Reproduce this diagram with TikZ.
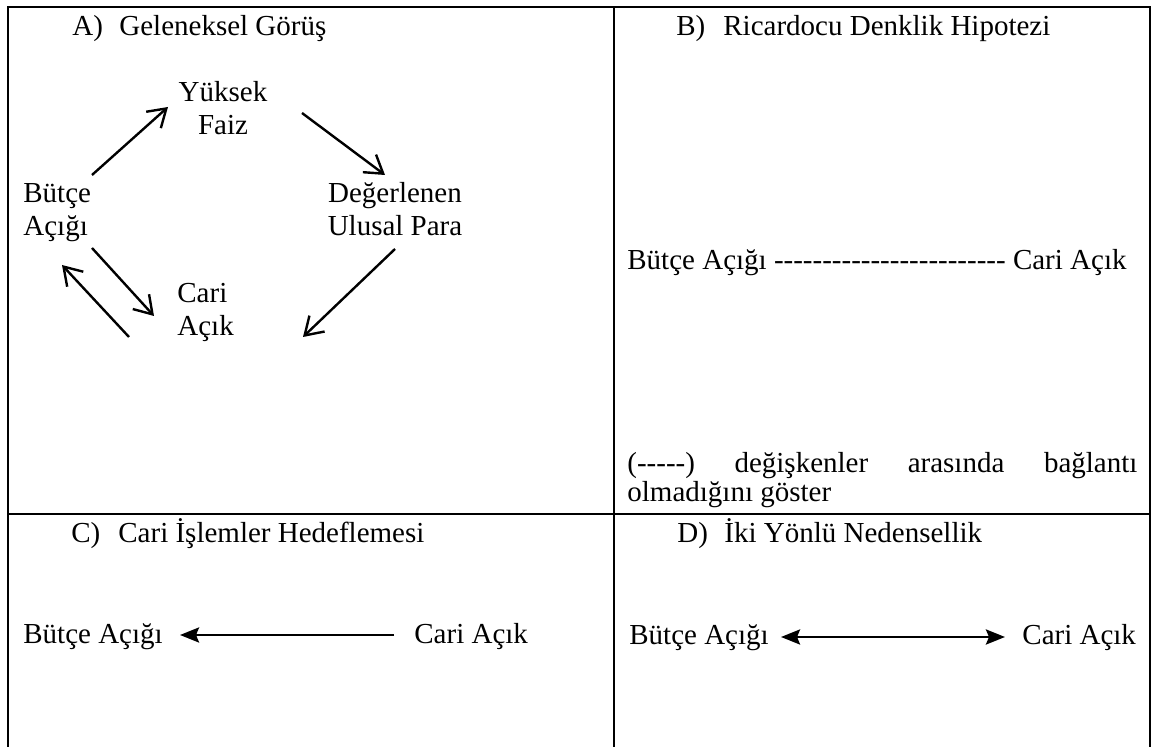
\documentclass[tikz,border=0pt]{standalone}
\usepackage{fontspec}
\setmainfont{Liberation Serif}
\usetikzlibrary{arrows.meta}
\newcommand\hy{-\kern0pt}
\begin{document}
\begin{tikzpicture}[x=0.5pt,y=-0.5pt,
  lbl/.style={inner sep=0pt, font=\fontsize{14.5}{16.2}\selectfont},
  rule/.style={line width=1.15pt},
  openarrow/.style={line width=1.2pt, -{Straight Barb[length=8.6pt,width=11pt]}},
  fillarrow/.style={line width=1.4pt},
  tip/.tip={Stealth[length=9.5pt,width=7.5pt,inset=1.5pt]}]
\useasboundingbox (0,0) rectangle (1152,747);
% table rules
\draw[rule] (8,747) -- (8,7) -- (1150,7) -- (1150,747);
\draw[rule] (614,7) -- (614,747);
\draw[rule] (8,514) -- (1150,514);
% titles
\node[lbl, anchor=base west] (tA) at (72,36) {\makebox[23.5pt][l]{A)}Geleneksel Görüş};
\node[lbl, anchor=base west] (tB) at (676,36) {\makebox[23.5pt][l]{B)}Ricardocu Denklik Hipotezi};
\node[lbl, anchor=base west] (tC) at (71,543) {\makebox[23.5pt][l]{C)}Cari İşlemler Hedeflemesi};
\node[lbl, anchor=base west] (tD) at (677,543) {\makebox[23.5pt][l]{D)}İki Yönlü Nedensellik};
% panel A
\node[lbl, anchor=base] (yf) at (223,102) {\begin{tabular}[t]{@{}c@{}}Yüksek\\Faiz\end{tabular}};
\node[lbl, anchor=base west] (bA) at (23,203) {\begin{tabular}[t]{@{}l@{}}Bütçe\\Açığı\end{tabular}};
\node[lbl, anchor=base] (dp) at (395,203) {\begin{tabular}[t]{@{}c@{}}Değerlenen\\Ulusal Para\end{tabular}};
\node[lbl, anchor=base west] (cA) at (177,303) {\begin{tabular}[t]{@{}l@{}}Cari\\Açık\end{tabular}};
\draw[openarrow] ([shift={(69,-28)}]bA.base west) -- ([shift={(-55,5)}]yf.base);
\draw[openarrow] ([shift={(79,11)}]yf.base) -- ([shift={(-10,-28)}]dp.base);
\draw[openarrow] ([shift={(0,46)}]dp.base) -- ([shift={(126,34)}]cA.base west);
\draw[openarrow] ([shift={(69,45)}]bA.base west) -- ([shift={(-23,13)}]cA.base west);
\draw[openarrow] ([shift={(-48,34)}]cA.base west) -- ([shift={(39,62)}]bA.base west);
% panel B
\node[lbl, anchor=base west] (bB) at (627,270) {Bütçe Açığı \hy\hy\hy\hy\hy\hy\hy\hy\hy\hy\hy\hy\hy\hy\hy\hy\hy\hy\hy\hy\hy\hy\hy\hy{} Cari Açık};
\node[lbl, anchor=base west] (note) at (627,473) {\begin{tabular}[t]{@{}l@{}}\hbox to 255pt{(\hy\hy\hy\hy\hy)\hfill değişkenler\hfill arasında\hfill bağlantı}\\[-2pt]olmadığını göster\end{tabular}};
% panel C
\node[lbl, anchor=base west] (bC) at (23,644) {Bütçe Açığı};
\node[lbl, anchor=base west] (cC) at (414,644) {Cari Açık};
\draw[fillarrow, -tip] ([shift={(-20,-9)}]cC.base west) -- ([shift={(157,-9)}]bC.base west);
% panel D
\node[lbl, anchor=base west] (bD) at (629,645) {Bütçe Açığı};
\node[lbl, anchor=base west] (cD) at (1022,645) {Cari Açık};
\draw[fillarrow, tip-tip] ([shift={(152,-8)}]bD.base west) -- ([shift={(-17,-8)}]cD.base west);
\end{tikzpicture}
\end{document}
